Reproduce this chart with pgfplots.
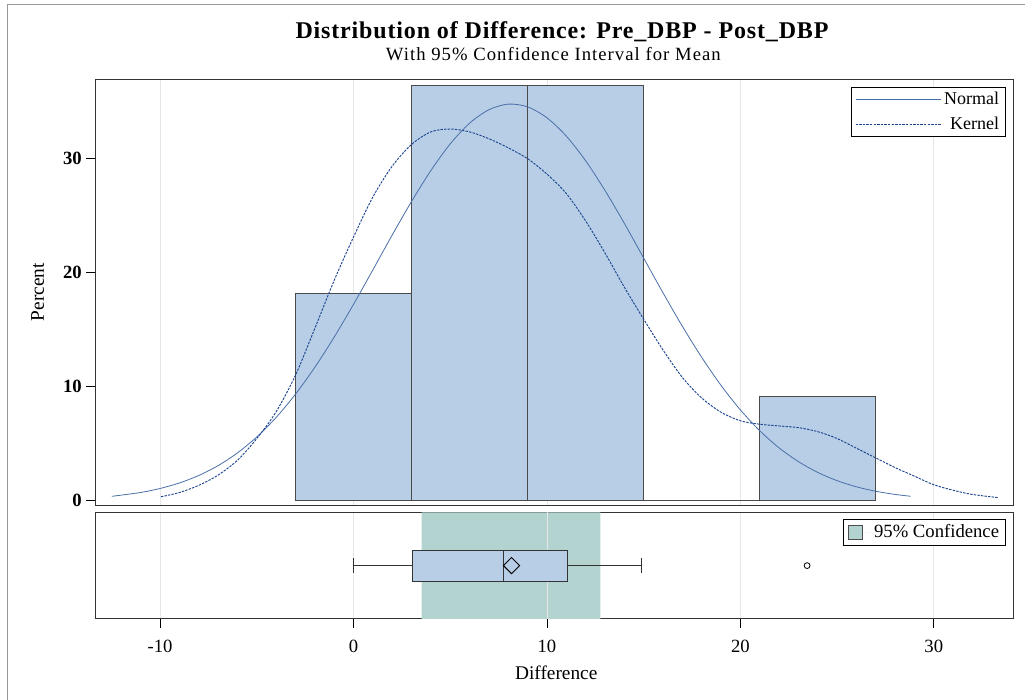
\documentclass[border=0pt]{standalone}
\usepackage{fontspec}
\setmainfont{Liberation Serif}
\usepackage{pgfplots}
\pgfplotsset{compat=1.18}
\usepgfplotslibrary{statistics}

\definecolor{barfill}{HTML}{B8CEE6}
\definecolor{barEdge}{HTML}{4A4A4A}
\definecolor{cifill}{HTML}{B3D3D1}
\definecolor{normcol}{HTML}{4A6FA8}
\definecolor{kerncol}{HTML}{1E4690}
\definecolor{gridcol}{HTML}{E6E6E6}

\begin{document}
\begin{tikzpicture}
\useasboundingbox (0,0) rectangle (768.75pt,-525pt);
\draw[color=gray!80, line width=0.75pt] (5.25pt,-540pt) -- (5.25pt,-3pt) -- (780pt,-3pt);

\begin{axis}[
 at={(71.8pt,-59.5pt)}, anchor=north west,
 scale only axis, width=688pt, height=319.3pt,
 xmin=-13.33, xmax=34.1, ymin=-0.38, ymax=36.9,
 axis line style={draw=black!80, line width=0.8pt},
 xtick={-10,0,...,30}, xticklabels={}, xtick style={draw=none},
 xmajorgrids, major grid style={gridcol, line width=0.6pt},
 ytick={0,10,20,30}, ytick pos=left, tick align=outside, major tick length=7pt,
 ytick style={black, line width=0.6pt},
 /pgf/number format/assume math mode=true,
 yticklabel style={font=\fontsize{14}{16}\selectfont\bfseries},
 ylabel={Percent},
 ylabel style={font=\fontsize{14.5}{16}\selectfont, at={(axis description cs:-0.0632,0.5)}, anchor=center},
 legend style={at={(axis description cs:0.9924,0.983)}, anchor=north east, draw=black, line width=0.6pt, font=\fontsize{13.5}{15}\selectfont, row sep=3.5pt},
 legend cell align=right,
 legend image code/.code={\path (0pt,0pt) -- (64pt,0pt); \draw[#1] (0pt,0pt) -- (55pt,0pt);},
]
\addplot[ybar interval, fill=barfill, draw=barEdge, line width=0.8pt, forget plot]
 coordinates {(-3,18.18) (3,36.36) (9,36.36) (15,0) (21,9.09) (27,9.09)};
\addplot[normcol, line width=0.6pt, smooth] coordinates {
(-12.5,0.386) (-11,0.724) (-10,1.074) (-9,1.557) (-8,2.212) (-7,3.078) (-6,4.191)
(-5,5.590) (-4,7.299) (-3,9.335) (-2,11.69) (-1,14.33) (0,17.20) (1,20.22) (2,23.27)
(3,26.21) (4,28.92) (5,31.25) (6,33.06) (7,34.24) (8,34.73) (9,34.49) (10,33.53)
(11,31.93) (12,29.77) (13,27.17) (14,24.29) (15,21.25) (16,18.21) (17,15.28) (18,12.56)
(19,10.10) (20,7.955) (21,6.135) (22,4.631) (23,3.429) (24,2.479) (25,1.759) (26,1.220)
(27,0.829) (28,0.552) (28.8,0.393)};
\addlegendentry{Normal}
\addplot[kerncol, line width=0.7pt, dash pattern=on 1.8pt off 0.9pt, smooth] coordinates {
(-9.96,0.35) (-9,0.72) (-8,1.35) (-7,2.25) (-6,3.55) (-5,5.45) (-4,7.8) (-3,11.0)
(-2,15.1) (-1,19.3) (0,23.1) (1,26.6) (2,29.3) (3,31.2) (4,32.3) (5,32.55) (6,32.3)
(7,31.7) (8,30.9) (9,29.95) (10,28.6) (11,26.9) (12,24.5) (13,21.7) (14,18.7) (15,15.9)
(16,13.2) (17,10.8) (18,9.0) (19,7.75) (20,7.0) (21,6.7) (22,6.55) (23,6.4) (24,6.05)
(25,5.45) (26,4.6) (27,3.75) (28,2.9) (29,2.15) (30,1.4) (31,0.92) (32,0.55) (33.3,0.28)};
\addlegendentry{Kernel}
\end{axis}

\begin{axis}[
 at={(71.8pt,-384.2pt)}, anchor=north west,
 scale only axis, width=688pt, height=80pt,
 xmin=-13.33, xmax=34.1, ymin=0, ymax=1,
 axis line style={draw=black!80, line width=0.8pt},
 xtick={-10,0,...,30}, xtick pos=left, ytick=\empty,
 tick align=outside, major tick length=7pt,
 xtick style={black, line width=0.6pt},
 xmajorgrids, major grid style={gridcol, line width=0.6pt},
 /pgf/number format/assume math mode=true,
 xticklabel style={font=\fontsize{14}{16}\selectfont, yshift=-5pt},
 xlabel={Difference},
 xlabel style={font=\fontsize{14.5}{16}\selectfont, at={(axis description cs:0.502,-0.506)}, anchor=center},
 legend style={at={(axis description cs:0.9924,0.937)}, anchor=north east, draw=black, line width=0.6pt, font=\fontsize{14}{16}\selectfont},
 legend image code/.code={\path (-1pt,0pt) -- (17pt,0pt); \draw[fill=cifill, draw=black!70, line width=0.6pt] (0pt,-5pt) rectangle (10pt,5pt);},
]
\addplot[fill=cifill, draw=none] coordinates {(3.52,0) (3.52,1) (12.76,1) (12.76,0)} \closedcycle;
\addlegendentry{95\% Confidence}
\addplot[gridcol, line width=0.6pt, forget plot] coordinates {(10,0) (10,1)};
\addplot[forget plot, draw=black!80, fill=barfill, line width=0.6pt,
 boxplot prepared={lower whisker=0, lower quartile=3.02, median=7.76,
  upper quartile=11.04, upper whisker=14.9, draw position=0.5,
  box extend=0.29, whisker extend=0.14, draw direction=x}] coordinates {};
\addplot[forget plot, only marks, mark=square, mark size=4.3pt,
 mark options={rotate=45, draw=black, line width=0.7pt}] coordinates {(8.17,0.5)};
\addplot[forget plot, only marks, mark=o, mark size=2.2pt,
 mark options={draw=black, line width=0.6pt}] coordinates {(23.45,0.5)};
\end{axis}

\node[anchor=base, inner sep=0pt, font=\fontsize{18}{21}\selectfont\bfseries\addfontfeatures{LetterSpace=3.5}] at (421.5pt,-28.6pt) {Distribution of Difference: Pre\_DBP - Post\_DBP};
\node[anchor=base, inner sep=0pt, font=\fontsize{14}{17}\selectfont\addfontfeatures{LetterSpace=5.6}] at (415pt,-45pt) {With 95\% Confidence Interval for Mean};
\end{tikzpicture}
\end{document}
